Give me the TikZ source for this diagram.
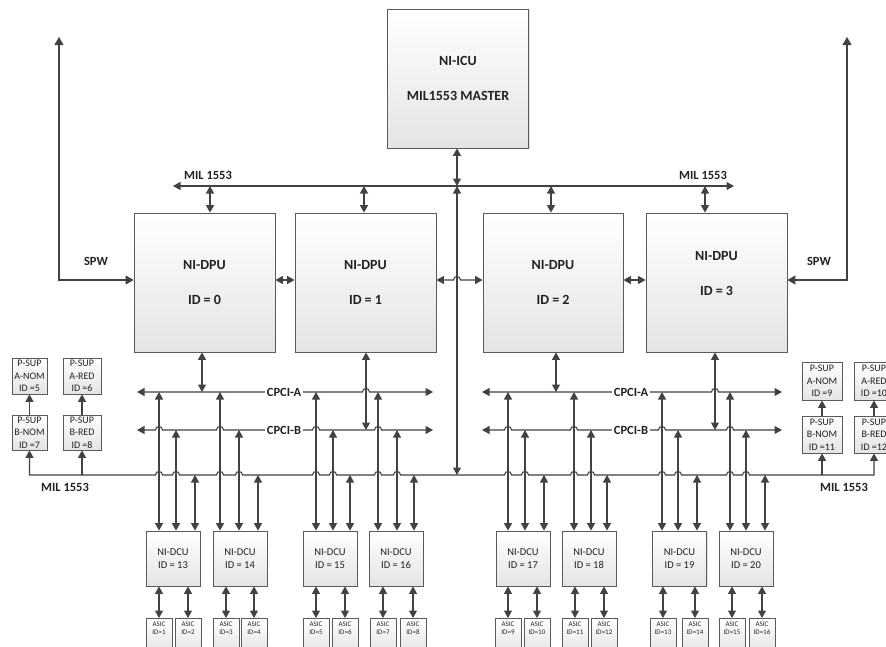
\documentclass[tikz,border=0pt]{standalone}
\usepackage{fontspec}
\setmainfont{Carlito}
\usetikzlibrary{arrows.meta,shadows,calc}
\definecolor{wirecol}{HTML}{424242}
\definecolor{boxline}{HTML}{5A5A5A}
\definecolor{boxbot}{HTML}{E4E4E4}
\definecolor{txtcol}{HTML}{222222}
\begin{document}
\begin{tikzpicture}[x=1pt,y=-1pt,
  wire/.style={draw=wirecol,line width=1.1pt},
  dbl/.style={wire,{Triangle[length=7.5pt,width=8pt]}-{Triangle[length=7.5pt,width=8pt]}},
  sgl/.style={wire,-{Triangle[length=7.5pt,width=8pt]}},
  dblbig/.style={wire,{Triangle[length=8pt,width=9pt]}-{Triangle[length=8pt,width=9pt]}},
  boxbase/.style={draw=boxline,line width=0.8pt,top color=white,bottom color=boxbot,
     drop shadow={shadow xshift=1.2pt,shadow yshift=-1.2pt,opacity=0.22},
     align=center,text=txtcol,inner sep=0pt},
  bigbox/.style={boxbase,minimum width=141pt,minimum height=139pt,font=\fontsize{14}{35}\selectfont\bfseries},
  bigtxt/.style={align=center,text=txtcol,inner sep=0pt,font=\fontsize{14}{35}\selectfont\bfseries},
  dcubox/.style={boxbase,minimum width=54pt,minimum height=55pt,font=\fontsize{10.5}{13}\selectfont},
  psup/.style={boxbase,font=\fontsize{10}{12.5}\selectfont},
  asicbox/.style={boxbase,minimum width=26pt,minimum height=34pt,anchor=north},
  asiclbl/.style={anchor=north,yshift=-3.5pt,align=center,font=\fontsize{7}{8}\selectfont,text=txtcol,inner sep=0pt},
  lbl/.style={text=txtcol,font=\fontsize{12.5}{14}\selectfont\bfseries,inner sep=1pt},
  cpcilbl/.style={lbl,fill=white,inner sep=1.5pt},
]
\useasboundingbox (0,0) rectangle (886,646);
\clip (0,0) rectangle (886,646);
\fill[white] (0,0) rectangle (886,646);

% ---------- main boxes ----------
\node[bigbox] (icu) at (458,78.5) {NI-ICU\\MIL1553 MASTER};
\node[bigbox] (dpu0) at (204.5,282.5) {NI-DPU\\ID = 0};
\node[bigbox] (dpu1) at (365.5,282.5) {NI-DPU\\ID = 1};
\node[bigbox,minimum width=140pt] (dpu2) at (553,282.5) {NI-DPU\\ID = 2};
\node[bigbox] (dpu3) at (716.5,282.5) {};
\node[bigtxt] (dpu3txt) at (716.5,273.5) {NI-DPU\\ID = 3};

% ---------- P-SUP boxes ----------
\node[psup,minimum width=35pt,minimum height=36pt] (pan) at (29.5,376) {P-SUP\\A-NOM\\ID =5};
\node[psup,minimum width=38pt,minimum height=36pt] (par) at (82,376) {P-SUP\\A-RED\\ID =6};
\node[psup,minimum width=35pt,minimum height=35pt] (pbn) at (29.5,432.5) {P-SUP\\B-NOM\\ID =7};
\node[psup,minimum width=38pt,minimum height=35pt] (pbr) at (82,432.5) {P-SUP\\B-RED\\ID =8};
\node[psup,minimum width=40pt,minimum height=38pt] (ran) at (822,381) {P-SUP\\A-NOM\\ID =9};
\node[psup,minimum width=40pt,minimum height=38pt] (rar) at (874,381) {P-SUP\\A-RED\\ID =10};
\node[psup,minimum width=40pt,minimum height=37pt] (rbn) at (822,434.5) {P-SUP\\B-NOM\\ID =11};
\node[psup,minimum width=40pt,minimum height=37pt] (rbr) at (874,434.5) {P-SUP\\B-RED\\ID =12};

% ---------- DCU boxes ----------
\foreach \d/\x in {13/173,14/240,15/330,16/396,17/523,18/589,19/679.5,20/746}
  \node[dcubox] (dcu\d) at (\x,558.5) {NI-DCU\\ID = \d};

% ---------- ASIC boxes ----------
\foreach \d/\n/\x in {13/1/159,13/2/188,14/3/226,14/4/254,15/5/316,15/6/345,16/7/383,16/8/413,
                      17/9/508,17/10/537,18/11/575,18/12/604,19/13/663,19/14/695,20/15/732,20/16/762}{
  \node[asicbox,label={[asiclbl]north:{ASIC\\ID=\n}}] (asic\n) at (\x,618) {};
  \draw[dbl] (dcu\d.south -| asic\n.north) -- (asic\n.north);
}

% ---------- coordinates ----------
\coordinate (h) at (0,280);
\coordinate (tL) at (173,186);
\coordinate (tR) at (734,186);
\coordinate (tI) at (457,186);
\coordinate (t0) at (210,186);
\coordinate (t1) at (364,186);
\coordinate (t2) at (551,186);
\coordinate (t3) at (705,186);
\coordinate (bI) at (457,475);
\coordinate (sL) at (59,37);
\coordinate (sR) at (847,37);
\coordinate (cAL1) at (137,392);
\coordinate (cAL2) at (433,392);
\coordinate (cBL1) at (137,430);
\coordinate (cBL2) at (433,430);
\coordinate (cAR1) at (482,392);
\coordinate (cAR2) at (782,392);
\coordinate (cBR1) at (482,430);
\coordinate (cBR2) at (782,430);
\coordinate (pA0) at (202,392);
\coordinate (pB1) at (366,430);
\coordinate (pA2) at (556,392);
\coordinate (pB3) at (715,430);
\coordinate (mL) at (29.5,475);
\coordinate (mR) at (874,475);

% ---------- top MIL 1553 bus ----------
\draw[dbl] (tL) -- (tR);
\draw[dbl] (icu.south -| tI) -- (tI);
\draw[dbl] (tI) -- (bI);
\foreach \k in {0,1,2,3}
  \draw[dbl] (dpu\k.north -| t\k) -- (t\k);
\node[lbl] (mil1) at (208,175) {MIL 1553};
\node[lbl] (mil2) at (703,175) {MIL 1553};

% ---------- SpaceWire ----------
\draw[dblbig] (sL) |- (dpu0.west |- h);
\draw[dblbig] (sR) |- (dpu3.east |- h);
\node[lbl] (spw1) at (96,261) {SPW};
\node[lbl] (spw2) at (819,261) {SPW};

% ---------- DPU to DPU ----------
\draw[dbl] (dpu0.east |- h) -- (dpu1.west |- h);
\draw[dbl] (dpu1.east |- h) -- (453.5,280) .. controls (453.5,275.3) and (460.5,275.3) .. (460.5,280) -- (dpu2.west |- h);
\draw[dbl] (dpu2.east |- h) -- (dpu3.west |- h);

% ---------- CPCI buses ----------
\draw[dbl] (cAL1) \foreach \q in {366}{ -- (\q-3.5,392) .. controls (\q-3.5,387.3) and (\q+3.5,387.3) .. (\q+3.5,392)} -- (cAL2);
\draw[dbl] (cBL1) \foreach \q in {159,220,316,378}{ -- (\q-3.5,430) .. controls (\q-3.5,425.3) and (\q+3.5,425.3) .. (\q+3.5,430)} -- (cBL2);
\draw[dbl] (cAR1) \foreach \q in {715}{ -- (\q-3.5,392) .. controls (\q-3.5,387.3) and (\q+3.5,387.3) .. (\q+3.5,392)} -- (cAR2);
\draw[dbl] (cBR1) \foreach \q in {508,574,662,730}{ -- (\q-3.5,430) .. controls (\q-3.5,425.3) and (\q+3.5,425.3) .. (\q+3.5,430)} -- (cBR2);
\node[cpcilbl] (cal) at (284,392) {CPCI-A};
\node[cpcilbl] (cbl) at (284,430) {CPCI-B};
\node[cpcilbl] (car) at (631,392) {CPCI-A};
\node[cpcilbl] (cbr) at (631,430) {CPCI-B};

\draw[dbl] (dpu0.south -| pA0) -- (pA0);
\draw[dbl] (dpu1.south -| pB1) -- (pB1);
\draw[dbl] (dpu2.south -| pA2) -- (pA2);
\draw[dbl] (dpu3.south -| pB3) -- (pB3);

% ---------- lower MIL 1553 bus ----------
\draw[dbl] (pbn.south) -- (mL)
  \foreach \q in {159,176,220,239,316,333,378,397,508,525,574,591,662,678,730,746}{ -- (\q-3.5,475) .. controls (\q-3.5,470.3) and (\q+3.5,470.3) .. (\q+3.5,475)}
  -- (mR) -- (rbr.south);
\draw[sgl] (pbr.south |- mL) -- (pbr.south);
\draw[sgl] (rbn.south |- mL) -- (rbn.south);
\draw[sgl] (pbn.north) -- (pan.south);
\draw[sgl] (pbr.north) -- (par.south);
\draw[sgl] (rbn.north) -- (ran.south);
\draw[sgl] (rbr.north) -- (rar.south);
\node[lbl] (mil3) at (65,487) {MIL 1553};
\node[lbl] (mil4) at (844,487) {MIL 1553};

% ---------- DCU connections ----------
\foreach \d/\a/\b/\m in {13/159/176/195,14/220/239/258,15/316/333/350,16/378/397/414,
                         17/508/525/544,18/574/591/607,19/662/678/697,20/730/746/765}{
  \coordinate (A\d) at (\a,392);
  \coordinate (B\d) at (\b,430);
  \coordinate (M\d) at (\m,475);
  \draw[dbl] (dcu\d.north -| A\d) -- (A\d);
  \draw[dbl] (dcu\d.north -| B\d) -- (B\d);
  \draw[dbl] (dcu\d.north -| M\d) -- (M\d);
}
\end{tikzpicture}
\end{document}
